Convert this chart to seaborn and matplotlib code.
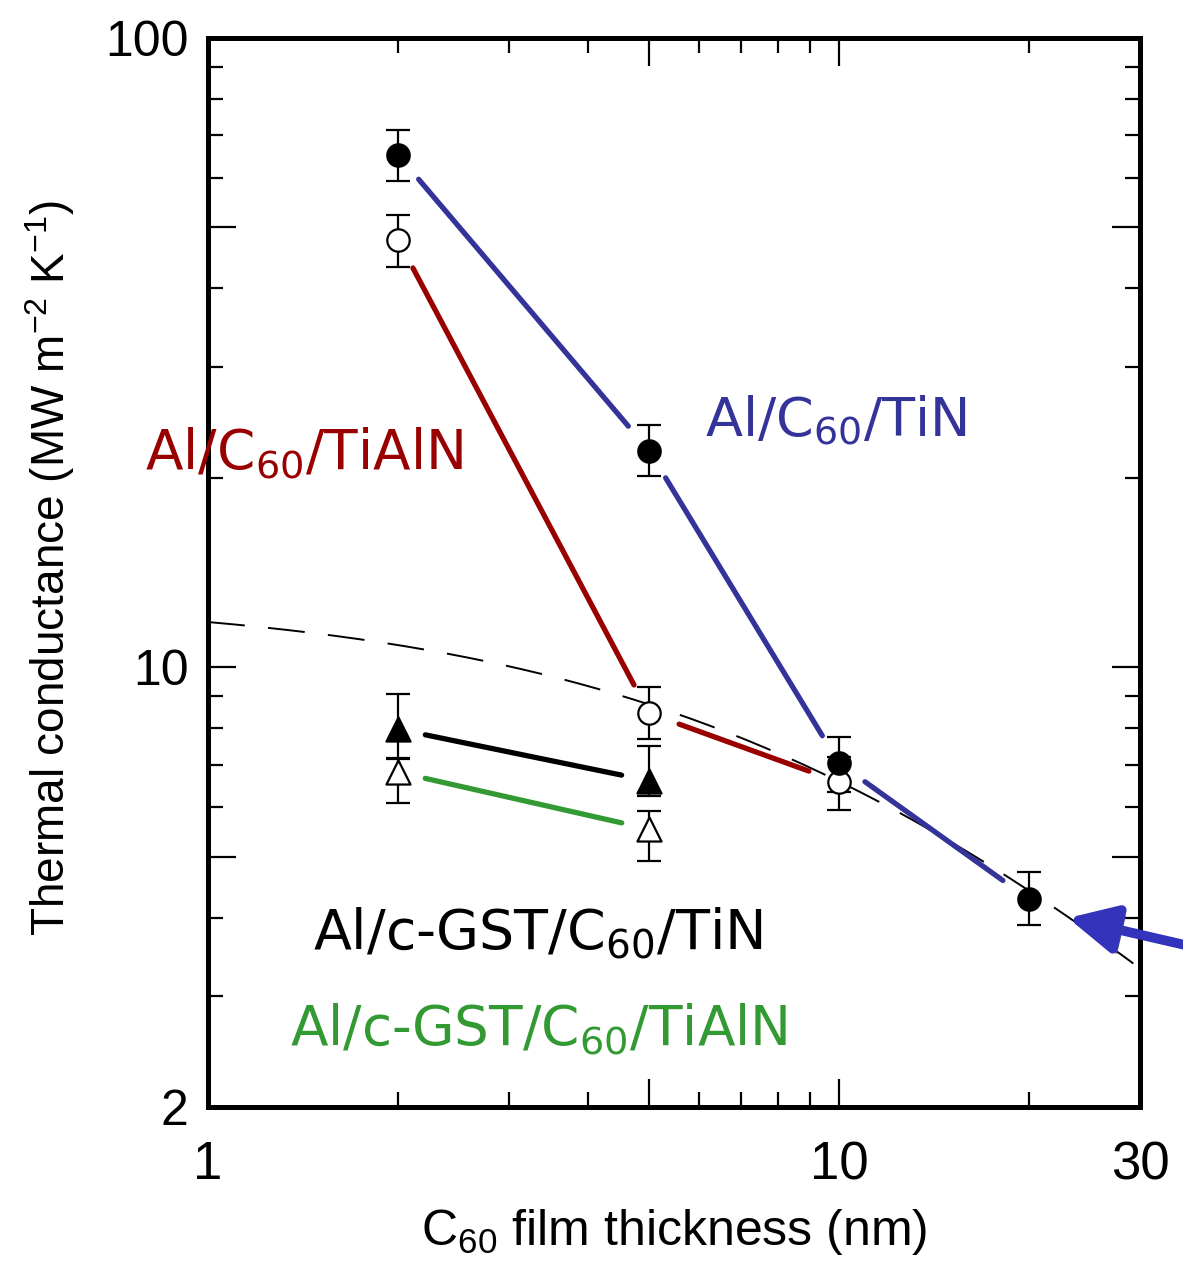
import numpy as np
import pandas as pd
import matplotlib
matplotlib.use("Agg")
import matplotlib.pyplot as plt
import matplotlib.patheffects as pe
from matplotlib.ticker import FixedLocator, FixedFormatter, NullFormatter
import seaborn as sns

# ---------------- data ----------------
x_tin = [2, 5, 10, 20]
g_tin = [65.2, 22.1, 7.04, 4.28]
lo_tin = [5.9, 2.0, 0.7, 0.39]
hi_tin = [6.3, 2.2, 0.7, 0.45]

x_tialn = [2, 5, 10]
g_tialn = [47.8, 8.45, 6.57]
lo_tialn = [4.5, 0.76, 0.64]
hi_tialn = [4.6, 0.84, 0.64]

x_gst_tin = [2, 5]
g_gst_tin = [7.97, 6.6]
lo_gst_tin = [0.83, 0.36]
hi_gst_tin = [1.09, 0.9]

x_gst_tialn = [2, 5]
g_gst_tialn = [6.81, 5.53]
lo_gst_tialn = [0.73, 0.61]
hi_gst_tialn = [0.36, 0.37]

# series model (dashed): 1/G = r0 + d / k
r0 = 0.0773
r_per_nm = 0.00746

x_major = [1, 5, 10, 30]
x_major_labels = ["1", "", "10", "30"]
x_minor = [2, 3, 4, 6, 7, 8, 9, 20]
y_major = [2, 5, 10, 50, 100]
y_major_labels = ["2", "", "10", "", "100"]
y_minor = [3, 4, 6, 7, 8, 9, 20, 30, 40, 60, 70, 80, 90]

label_tin = "Al/C$_{60}$/TiN"
label_tialn = "Al/C$_{60}$/TiAlN"
label_gst_tin = "Al/c-GST/C$_{60}$/TiN"
label_gst_tialn = "Al/c-GST/C$_{60}$/TiAlN"

c_blue = "#333399"
c_red = "#990000"
c_green = "#339933"
c_black = "#000000"

# ---------------- style ----------------
sns.set_theme(style="ticks")
plt.rcParams["font.family"] = ["Liberation Sans", "DejaVu Sans"]
plt.rcParams["mathtext.fontset"] = "dejavusans"
plt.rcParams["mathtext.default"] = "regular"
plt.rcParams["text.color"] = "black"
plt.rcParams["axes.labelcolor"] = "black"
plt.rcParams["xtick.labelcolor"] = "black"
plt.rcParams["ytick.labelcolor"] = "black"

W, H = 1183, 1264
fig = plt.figure(figsize=(W / 100, H / 100), dpi=100)
L, R, T, B = 208, 1140, 38, 1107
ax = fig.add_axes([L / W, 1 - B / H, (R - L) / W, (B - T) / H])
ax.set_xscale("log")
ax.set_yscale("log")
ax.set_xlim(1, 30)
ax.set_ylim(2, 100)

for s in ax.spines.values():
    s.set_linewidth(3.6)
    s.set_color("black")

ax.xaxis.set_major_locator(FixedLocator(x_major))
ax.xaxis.set_major_formatter(FixedFormatter(x_major_labels))
ax.xaxis.set_minor_locator(FixedLocator(x_minor))
ax.xaxis.set_minor_formatter(NullFormatter())
ax.yaxis.set_major_locator(FixedLocator(y_major))
ax.yaxis.set_major_formatter(FixedFormatter(y_major_labels))
ax.yaxis.set_minor_locator(FixedLocator(y_minor))
ax.yaxis.set_minor_formatter(NullFormatter())

ax.tick_params(which="both", direction="in", top=True, right=True, color="black")
ax.tick_params(which="major", length=20, width=1.6)
ax.tick_params(which="minor", length=11, width=1.6)
ax.tick_params(axis="x", which="major", pad=24, labelsize=38)
ax.tick_params(axis="y", which="major", pad=14, labelsize=36)

ax.set_xlabel("C$_{60}$ film thickness (nm)", fontsize=36)
ax.set_ylabel("Thermal conductance (MW m$^{-2}$ K$^{-1}$)", fontsize=33)
ax.xaxis.set_label_coords(0.5, -0.094)
ax.yaxis.set_label_coords(-0.141, 0.504)

# ---------------- dashed model curve ----------------
d = np.logspace(0, np.log10(30), 200)
g_model = 1.0 / (r0 + r_per_nm * d)
sns.lineplot(x=d, y=g_model, ax=ax, color="black", lw=1.4,
             linestyle=(0, (19, 12)), sort=False, zorder=2)

# ---------------- connecting lines with gaps ----------------
def gapped(xs, ys, color, gap=32):
    pts = ax.transData.transform(np.column_stack([xs, ys]))
    inv = ax.transData.inverted()
    for p0, p1 in zip(pts[:-1], pts[1:]):
        v = p1 - p0
        n = np.hypot(*v)
        u = v / n
        a = inv.transform(p0 + u * gap)
        b = inv.transform(p1 - u * gap)
        seg = pd.DataFrame({"x": [a[0], b[0]], "y": [a[1], b[1]]})
        sns.lineplot(data=seg, x="x", y="y", ax=ax, color=color, lw=3.8,
                     sort=False, zorder=3)

gapped(x_tin, g_tin, c_blue)
gapped(x_tialn, g_tialn, c_red)
gapped(x_gst_tin, g_gst_tin, c_black, gap=28)
gapped(x_gst_tialn, g_gst_tialn, c_green, gap=28)

# ---------------- error bars & markers ----------------
def points(xs, ys, lo, hi, marker, filled, size):
    ax.errorbar(xs, ys, yerr=[lo, hi], fmt="none", ecolor="black",
                elinewidth=1.6, capsize=8.6, capthick=1.6, zorder=4)
    sns.scatterplot(x=xs, y=ys, ax=ax, marker=marker, s=size,
                    color="black" if filled else "white",
                    edgecolor="black", linewidth=1.6, zorder=5)

points(x_tialn, g_tialn, lo_tialn, hi_tialn, "o", False, 260)
points(x_tin, g_tin, lo_tin, hi_tin, "o", True, 260)
points(x_gst_tialn, g_gst_tialn, lo_gst_tialn, hi_gst_tialn, "^", False, 300)
points(x_gst_tin, g_gst_tin, lo_gst_tin, hi_gst_tin, "^", True, 300)

# ---------------- series labels ----------------
lab_font = ["DejaVu Sans"]
fig.text(705 / W, 1 - 437 / H, label_tin, color=c_blue, fontsize=39,
         family=lab_font, ha="left", va="baseline")
fig.text(145 / W, 1 - 469 / H, label_tialn, color=c_red, fontsize=39.5,
         family=lab_font, ha="left", va="baseline")
fig.text(313 / W, 1 - 948 / H, label_gst_tin, color=c_black, fontsize=40,
         family=lab_font, ha="left", va="baseline")
fig.text(290 / W, 1 - 1045 / H, label_gst_tialn, color=c_green, fontsize=39.5,
         family=lab_font, ha="left", va="baseline")

# ---------------- arrow ----------------
ax.annotate("", xy=(1068, H - 918), xycoords="figure pixels",
            xytext=(1250, H - 960), textcoords="figure pixels",
            annotation_clip=False,
            arrowprops=dict(arrowstyle="-|>,head_length=1.3,head_width=0.65",
                            mutation_scale=22, lw=7, color="#3333bb",
                            shrinkA=0, shrinkB=0,
                            path_effects=[pe.withSimplePatchShadow(
                                offset=(3, -4), shadow_rgbFace="#555555",
                                alpha=0.9)]))

fig.savefig("out.png", dpi=100)
